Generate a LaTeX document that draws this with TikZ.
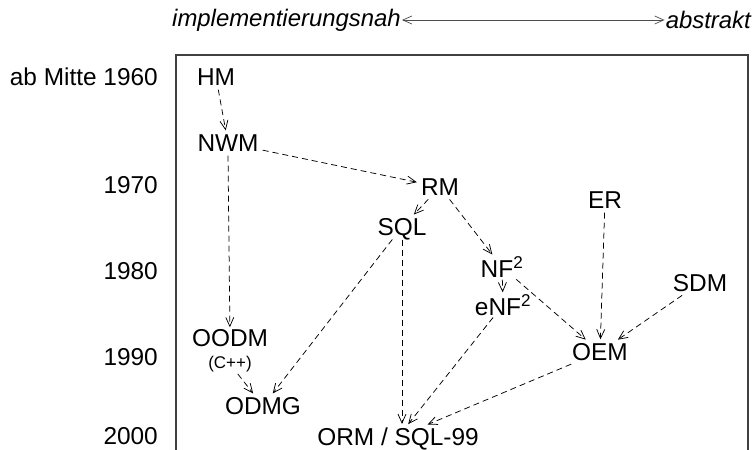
\documentclass[tikz,border=0pt]{standalone}
\usepackage{fontspec}
\setmainfont{Liberation Sans}
\usetikzlibrary{arrows.meta, positioning}

\begin{document}
\begin{tikzpicture}[x=1bp, y=-1bp, >={Straight Barb[length=9bp, width=8bp]},
    font=\fontsize{24.5}{29}\selectfont,
    model/.style={inner sep=3bp, text depth=0pt},
    year/.style={anchor=east, inner sep=0pt, text depth=0pt},
    dev/.style={->, dashed, dash pattern=on 6bp off 4bp, line width=0.75bp, shorten >=1bp, shorten <=1bp},
    frame/.style={draw=black!75, line width=1.3bp}]

    \useasboundingbox (0,0) rectangle (753,450);

    % Header
    \node (impl) [anchor=west, inner sep=1bp, font=\fontsize{24}{28}\selectfont\itshape] at (171,20) {implementierungsnah};
    \node (abstr) [anchor=east, inner sep=1bp, font=\fontsize{24}{28}\selectfont\itshape] at (752,20) {abstrakt};
    \draw[<->, black!70, line width=0.7bp] (impl) -- (abstr);

    % Frame
    \draw[frame] (176,450) -- (176,55) -- (748,55) -- (748,450);

    % Years
    \node (y60) [year] at (158,77) {ab Mitte 1960};
    \node (y70) [year] at (158,185) {1970};
    \node (y80) [year] at (158,271) {1980};
    \node (y90) [year] at (158,357) {1990};
    \node (y00) [year] at (158,436) {2000};

    % Models
    \node (hm) [model] at (216,77) {HM};
    \node (nwm) [model] at (228,143) {NWM};
    \node (rm) [model] at (440,187) {RM};
    \node (sql) [model] at (402,227) {SQL};
    \node (er) [model] at (605,200) {ER};
    \node (nf) [model, inner sep=1bp] at (502,267) {NF\textsuperscript{2}};
    \node (enf) [model, inner sep=1bp] at (503,305) {eNF\textsuperscript{2}};
    \node (sdm) [model] at (700,283) {SDM};
    \node (oodm) [model, inner sep=1bp] at (230,338) {OODM};
    \node (cpp) [inner sep=1bp, font=\fontsize{17}{19}\selectfont] at (230,364) {(C++)};
    \node (oem) [model] at (600,352) {OEM};
    \node (odmg) [model] at (263,406) {ODMG};
    \node (orm) [model] at (398,437) {ORM / SQL-99};

    % Connections
    \draw[dev] (hm) -- (nwm);
    \draw[dev] (nwm) -- (rm);
    \draw[dev] (nwm.south) -- (oodm);
    \draw[dev] (rm) -- (sql);
    \draw[dev] (rm) -- (nf);
    \draw[dev] (sql) -- (odmg);
    \draw[dev] (sql) -- (orm.north -| sql);
    \draw[dev] (nf) -- (enf);
    \draw[dev] (nf) -- (oem);
    \draw[dev] (er) -- (oem);
    \draw[dev] (sdm) -- (oem);
    \draw[dev] (enf) -- (orm);
    \draw[dev] (oem) -- (orm);
    \draw[dev] (cpp) -- (odmg);

\end{tikzpicture}
\end{document}
